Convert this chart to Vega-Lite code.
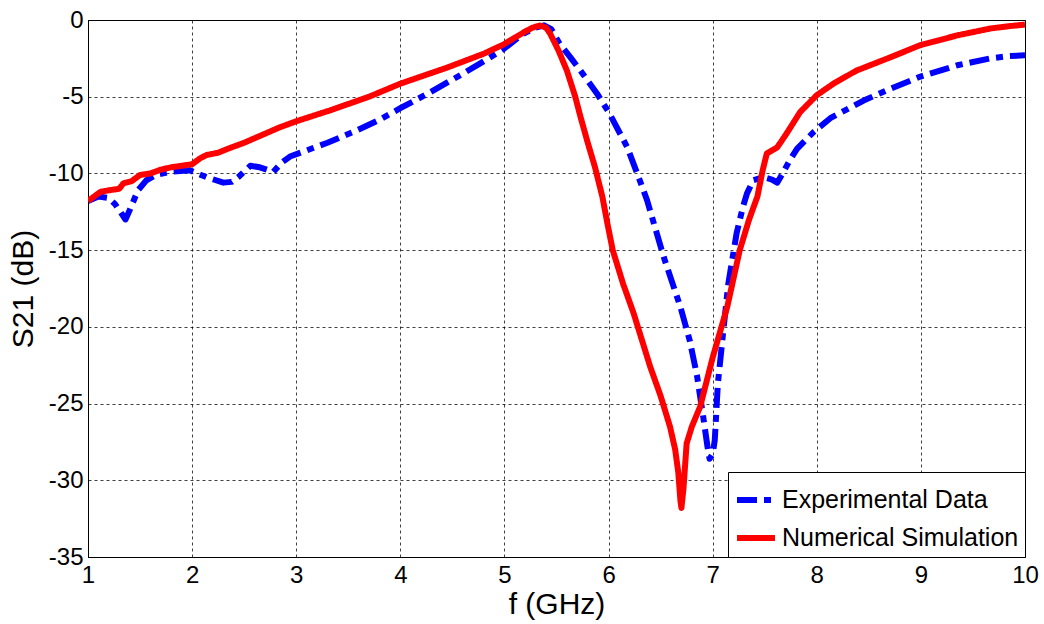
{
  "$schema": "https://vega.github.io/schema/vega-lite/v6.json",
  "autosize": "none",
  "width": 937,
  "height": 537,
  "padding": {"left": 88, "top": 20, "right": 19, "bottom": 67},
  "background": "white",
  "config": {
    "font": "Liberation Sans",
    "view": {"stroke": "black", "strokeWidth": 1},
    "axis": {
      "domainColor": "black",
      "domainWidth": 1,
      "ticks": false,
      "labelFlush": false,
      "labelColor": "black",
      "labelFont": "Liberation Sans",
      "labelFontSize": 24,
      "titleColor": "black",
      "titleFont": "Liberation Sans",
      "titleFontSize": 30,
      "titleFontWeight": "normal",
      "gridColor": "black",
      "gridOpacity": 0.75,
      "gridDash": [3, 3],
      "gridWidth": 1
    }
  },
  "data": {
    "values": [
      {"f": 1.0, "s21": -11.8, "series": "Experimental Data"},
      {"f": 1.1, "s21": -11.5, "series": "Experimental Data"},
      {"f": 1.2, "s21": -11.6, "series": "Experimental Data"},
      {"f": 1.26, "s21": -12.0, "series": "Experimental Data"},
      {"f": 1.36, "s21": -13.0, "series": "Experimental Data"},
      {"f": 1.4, "s21": -12.4, "series": "Experimental Data"},
      {"f": 1.48, "s21": -11.1, "series": "Experimental Data"},
      {"f": 1.56, "s21": -10.45, "series": "Experimental Data"},
      {"f": 1.65, "s21": -10.1, "series": "Experimental Data"},
      {"f": 1.79, "s21": -9.9, "series": "Experimental Data"},
      {"f": 1.98, "s21": -9.8, "series": "Experimental Data"},
      {"f": 2.14, "s21": -10.25, "series": "Experimental Data"},
      {"f": 2.3, "s21": -10.6, "series": "Experimental Data"},
      {"f": 2.38, "s21": -10.55, "series": "Experimental Data"},
      {"f": 2.45, "s21": -10.2, "series": "Experimental Data"},
      {"f": 2.56, "s21": -9.5, "series": "Experimental Data"},
      {"f": 2.65, "s21": -9.6, "series": "Experimental Data"},
      {"f": 2.78, "s21": -9.9, "series": "Experimental Data"},
      {"f": 2.86, "s21": -9.3, "series": "Experimental Data"},
      {"f": 2.94, "s21": -8.9, "series": "Experimental Data"},
      {"f": 3.1, "s21": -8.5, "series": "Experimental Data"},
      {"f": 3.3, "s21": -8.0, "series": "Experimental Data"},
      {"f": 3.58, "s21": -7.2, "series": "Experimental Data"},
      {"f": 3.8, "s21": -6.5, "series": "Experimental Data"},
      {"f": 4.0, "s21": -5.75, "series": "Experimental Data"},
      {"f": 4.29, "s21": -4.7, "series": "Experimental Data"},
      {"f": 4.6, "s21": -3.5, "series": "Experimental Data"},
      {"f": 4.8, "s21": -2.7, "series": "Experimental Data"},
      {"f": 4.99, "s21": -1.9, "series": "Experimental Data"},
      {"f": 5.18, "s21": -0.9, "series": "Experimental Data"},
      {"f": 5.3, "s21": -0.5, "series": "Experimental Data"},
      {"f": 5.38, "s21": -0.35, "series": "Experimental Data"},
      {"f": 5.45, "s21": -0.6, "series": "Experimental Data"},
      {"f": 5.53, "s21": -1.55, "series": "Experimental Data"},
      {"f": 5.63, "s21": -2.4, "series": "Experimental Data"},
      {"f": 5.73, "s21": -3.3, "series": "Experimental Data"},
      {"f": 5.89, "s21": -4.8, "series": "Experimental Data"},
      {"f": 6.01, "s21": -6.1, "series": "Experimental Data"},
      {"f": 6.18, "s21": -8.3, "series": "Experimental Data"},
      {"f": 6.3, "s21": -10.45, "series": "Experimental Data"},
      {"f": 6.37, "s21": -11.75, "series": "Experimental Data"},
      {"f": 6.53, "s21": -15.45, "series": "Experimental Data"},
      {"f": 6.69, "s21": -18.7, "series": "Experimental Data"},
      {"f": 6.78, "s21": -20.9, "series": "Experimental Data"},
      {"f": 6.85, "s21": -23.2, "series": "Experimental Data"},
      {"f": 6.91, "s21": -25.9, "series": "Experimental Data"},
      {"f": 6.95, "s21": -27.8, "series": "Experimental Data"},
      {"f": 6.97, "s21": -28.6, "series": "Experimental Data"},
      {"f": 7.0, "s21": -28.3, "series": "Experimental Data"},
      {"f": 7.02, "s21": -27.4, "series": "Experimental Data"},
      {"f": 7.05, "s21": -23.7, "series": "Experimental Data"},
      {"f": 7.1, "s21": -20.4, "series": "Experimental Data"},
      {"f": 7.15, "s21": -17.2, "series": "Experimental Data"},
      {"f": 7.23, "s21": -13.9, "series": "Experimental Data"},
      {"f": 7.29, "s21": -12.2, "series": "Experimental Data"},
      {"f": 7.33, "s21": -11.3, "series": "Experimental Data"},
      {"f": 7.39, "s21": -10.45, "series": "Experimental Data"},
      {"f": 7.49, "s21": -10.25, "series": "Experimental Data"},
      {"f": 7.57, "s21": -10.4, "series": "Experimental Data"},
      {"f": 7.62, "s21": -10.6, "series": "Experimental Data"},
      {"f": 7.68, "s21": -9.9, "series": "Experimental Data"},
      {"f": 7.74, "s21": -9.15, "series": "Experimental Data"},
      {"f": 7.81, "s21": -8.4, "series": "Experimental Data"},
      {"f": 7.97, "s21": -7.3, "series": "Experimental Data"},
      {"f": 8.13, "s21": -6.4, "series": "Experimental Data"},
      {"f": 8.45, "s21": -5.25, "series": "Experimental Data"},
      {"f": 8.7, "s21": -4.5, "series": "Experimental Data"},
      {"f": 8.99, "s21": -3.7, "series": "Experimental Data"},
      {"f": 9.35, "s21": -2.95, "series": "Experimental Data"},
      {"f": 9.67, "s21": -2.5, "series": "Experimental Data"},
      {"f": 9.85, "s21": -2.35, "series": "Experimental Data"},
      {"f": 10.0, "s21": -2.3, "series": "Experimental Data"},
      {"f": 1.0, "s21": -11.8, "series": "Numerical Simulation"},
      {"f": 1.06, "s21": -11.5, "series": "Numerical Simulation"},
      {"f": 1.12, "s21": -11.2, "series": "Numerical Simulation"},
      {"f": 1.2, "s21": -11.1, "series": "Numerical Simulation"},
      {"f": 1.3, "s21": -11.0, "series": "Numerical Simulation"},
      {"f": 1.34, "s21": -10.65, "series": "Numerical Simulation"},
      {"f": 1.42, "s21": -10.5, "series": "Numerical Simulation"},
      {"f": 1.5, "s21": -10.1, "series": "Numerical Simulation"},
      {"f": 1.6, "s21": -10.0, "series": "Numerical Simulation"},
      {"f": 1.7, "s21": -9.75, "series": "Numerical Simulation"},
      {"f": 1.8, "s21": -9.6, "series": "Numerical Simulation"},
      {"f": 2.0, "s21": -9.4, "series": "Numerical Simulation"},
      {"f": 2.08, "s21": -9.0, "series": "Numerical Simulation"},
      {"f": 2.14, "s21": -8.8, "series": "Numerical Simulation"},
      {"f": 2.25, "s21": -8.65, "series": "Numerical Simulation"},
      {"f": 2.34, "s21": -8.4, "series": "Numerical Simulation"},
      {"f": 2.5, "s21": -8.0, "series": "Numerical Simulation"},
      {"f": 2.84, "s21": -7.0, "series": "Numerical Simulation"},
      {"f": 3.0, "s21": -6.6, "series": "Numerical Simulation"},
      {"f": 3.32, "s21": -5.9, "series": "Numerical Simulation"},
      {"f": 3.7, "s21": -5.0, "series": "Numerical Simulation"},
      {"f": 4.0, "s21": -4.15, "series": "Numerical Simulation"},
      {"f": 4.45, "s21": -3.1, "series": "Numerical Simulation"},
      {"f": 4.8, "s21": -2.2, "series": "Numerical Simulation"},
      {"f": 4.99, "s21": -1.6, "series": "Numerical Simulation"},
      {"f": 5.1, "s21": -1.15, "series": "Numerical Simulation"},
      {"f": 5.2, "s21": -0.75, "series": "Numerical Simulation"},
      {"f": 5.27, "s21": -0.5, "series": "Numerical Simulation"},
      {"f": 5.34, "s21": -0.36, "series": "Numerical Simulation"},
      {"f": 5.4, "s21": -0.5, "series": "Numerical Simulation"},
      {"f": 5.44, "s21": -0.9, "series": "Numerical Simulation"},
      {"f": 5.52, "s21": -2.0, "series": "Numerical Simulation"},
      {"f": 5.6, "s21": -3.3, "series": "Numerical Simulation"},
      {"f": 5.68, "s21": -5.0, "series": "Numerical Simulation"},
      {"f": 5.73, "s21": -6.3, "series": "Numerical Simulation"},
      {"f": 5.8, "s21": -8.0, "series": "Numerical Simulation"},
      {"f": 5.87, "s21": -9.6, "series": "Numerical Simulation"},
      {"f": 5.94, "s21": -11.5, "series": "Numerical Simulation"},
      {"f": 5.99, "s21": -13.3, "series": "Numerical Simulation"},
      {"f": 6.04, "s21": -15.0, "series": "Numerical Simulation"},
      {"f": 6.14, "s21": -17.2, "series": "Numerical Simulation"},
      {"f": 6.24, "s21": -19.1, "series": "Numerical Simulation"},
      {"f": 6.4, "s21": -22.6, "series": "Numerical Simulation"},
      {"f": 6.5, "s21": -24.5, "series": "Numerical Simulation"},
      {"f": 6.59, "s21": -26.5, "series": "Numerical Simulation"},
      {"f": 6.64, "s21": -28.0, "series": "Numerical Simulation"},
      {"f": 6.67, "s21": -29.5, "series": "Numerical Simulation"},
      {"f": 6.69, "s21": -31.3, "series": "Numerical Simulation"},
      {"f": 6.7, "s21": -31.8, "series": "Numerical Simulation"},
      {"f": 6.72, "s21": -30.5, "series": "Numerical Simulation"},
      {"f": 6.75, "s21": -27.6, "series": "Numerical Simulation"},
      {"f": 6.8, "s21": -26.5, "series": "Numerical Simulation"},
      {"f": 6.88, "s21": -25.2, "series": "Numerical Simulation"},
      {"f": 7.0, "s21": -22.0, "series": "Numerical Simulation"},
      {"f": 7.14, "s21": -18.7, "series": "Numerical Simulation"},
      {"f": 7.26, "s21": -15.0, "series": "Numerical Simulation"},
      {"f": 7.35, "s21": -13.0, "series": "Numerical Simulation"},
      {"f": 7.43, "s21": -11.5, "series": "Numerical Simulation"},
      {"f": 7.48, "s21": -9.8, "series": "Numerical Simulation"},
      {"f": 7.52, "s21": -8.7, "series": "Numerical Simulation"},
      {"f": 7.62, "s21": -8.3, "series": "Numerical Simulation"},
      {"f": 7.71, "s21": -7.4, "series": "Numerical Simulation"},
      {"f": 7.84, "s21": -6.0, "series": "Numerical Simulation"},
      {"f": 8.0, "s21": -4.9, "series": "Numerical Simulation"},
      {"f": 8.16, "s21": -4.15, "series": "Numerical Simulation"},
      {"f": 8.38, "s21": -3.3, "series": "Numerical Simulation"},
      {"f": 8.7, "s21": -2.45, "series": "Numerical Simulation"},
      {"f": 8.99, "s21": -1.65, "series": "Numerical Simulation"},
      {"f": 9.35, "s21": -1.0, "series": "Numerical Simulation"},
      {"f": 9.67, "s21": -0.55, "series": "Numerical Simulation"},
      {"f": 9.85, "s21": -0.4, "series": "Numerical Simulation"},
      {"f": 10.0, "s21": -0.3, "series": "Numerical Simulation"}
    ]
  },
  "encoding": {
    "x": {
      "field": "f", "type": "quantitative", "title": "f (GHz)",
      "scale": {"domain": [1, 10], "nice": false, "zero": false},
      "axis": {"values": [1,2,3,4,5,6,7,8,9,10], "labelPadding": 6, "titlePadding": 2, "labelExpr": "datum.value + ''"}
    },
    "y": {
      "field": "s21", "type": "quantitative", "title": "S21 (dB)",
      "scale": {"domain": [-35, 0], "nice": false, "zero": false},
      "axis": {"values": [-35,-30,-25,-20,-15,-10,-5,0], "labelPadding": 5, "titlePadding": 10, "labelExpr": "datum.value + ''"}
    },
    "color": {
      "field": "series", "type": "nominal",
      "scale": {"domain": ["Experimental Data", "Numerical Simulation"], "range": ["#0000ff", "#ff0000"]},
      "legend": {
        "title": null, "orient": "bottom-right", "offset": 0,
        "fillColor": "white", "strokeColor": "black", "padding": 6,
        "symbolType": "stroke", "symbolSize": 1444, "symbolStrokeWidth": 6,
        "labelFont": "Liberation Sans", "labelFontSize": 25, "labelColor": "black",
        "labelOffset": 4, "rowPadding": 3, "labelLimit": 400
      }
    },
    "strokeDash": {
      "field": "series", "type": "nominal",
      "scale": {"domain": ["Experimental Data", "Numerical Simulation"], "range": [[20, 7, 7, 7], [1, 0]]},
      "legend": {
        "title": null, "orient": "bottom-right", "offset": 0,
        "fillColor": "white", "strokeColor": "black", "padding": 6,
        "symbolType": "stroke", "symbolSize": 1444, "symbolStrokeWidth": 6,
        "labelFont": "Liberation Sans", "labelFontSize": 25, "labelColor": "black",
        "labelOffset": 4, "rowPadding": 3, "labelLimit": 400
      }
    }
  },
  "layer": [
    {
      "transform": [{"filter": "datum.series == 'Experimental Data'"}],
      "mark": {"type": "line", "strokeWidth": 6, "strokeJoin": "round", "clip": true}
    },
    {
      "transform": [{"filter": "datum.series == 'Numerical Simulation'"}],
      "mark": {"type": "line", "strokeWidth": 6, "strokeJoin": "round", "clip": true}
    }
  ]
}
